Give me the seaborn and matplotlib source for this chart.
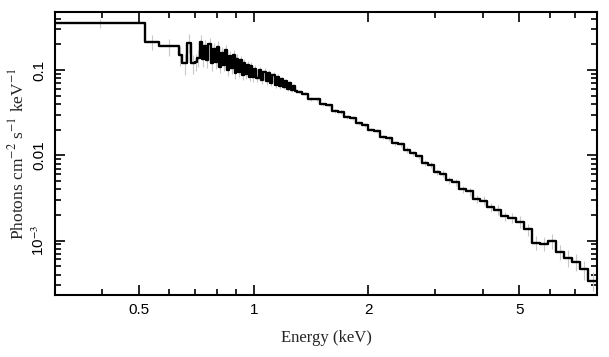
import matplotlib
matplotlib.use("Agg")
import matplotlib.pyplot as plt
import matplotlib.ticker as mticker
import numpy as np
import pandas as pd
import seaborn as sns

# ---- data ----
# low-energy bins
edges_low = [0.300, 0.516, 0.565, 0.634, 0.648, 0.667, 0.683, 0.700, 0.710]
flux_low = [0.355, 0.215, 0.190, 0.150, 0.120, 0.210, 0.120, 0.125, 0.140]
err_low = [0.12, 0.20, 0.22, 0.25, 0.28, 0.25, 0.25, 0.22, 0.22]

# dense, noisy region 0.72 - 1.30 keV
edges_mid = [0.720, 0.730, 0.740, 0.750, 0.760, 0.770, 0.780, 0.790, 0.800, 0.810,
             0.820, 0.830, 0.840, 0.850, 0.860, 0.870, 0.880, 0.890, 0.900, 0.910,
             0.920, 0.930, 0.940, 0.950, 0.960, 0.970, 0.980, 0.990,
             1.000, 1.015, 1.030, 1.045, 1.060, 1.075, 1.090, 1.105, 1.120, 1.135,
             1.150, 1.165, 1.180, 1.195, 1.210, 1.225, 1.240, 1.255, 1.270, 1.285]
flux_mid = [0.215, 0.135, 0.190, 0.130, 0.200, 0.120, 0.175, 0.125, 0.185, 0.110,
            0.160, 0.115, 0.170, 0.100, 0.145, 0.105, 0.150, 0.092, 0.135, 0.095,
            0.130, 0.088, 0.122, 0.090, 0.115, 0.083, 0.112, 0.082,
            0.104, 0.080, 0.100, 0.076, 0.096, 0.074, 0.092, 0.070, 0.087, 0.067,
            0.083, 0.065, 0.078, 0.063, 0.075, 0.060, 0.070, 0.059, 0.065, 0.057]
err_mid = [0.20, 0.20, 0.20, 0.18, 0.18, 0.18, 0.18, 0.17, 0.17, 0.17,
           0.16, 0.16, 0.16, 0.15, 0.15, 0.15, 0.14, 0.14, 0.14, 0.13,
           0.13, 0.13, 0.12, 0.12, 0.12, 0.11, 0.11, 0.11,
           0.10, 0.10, 0.10, 0.09, 0.09, 0.09, 0.08, 0.08, 0.08, 0.07,
           0.07, 0.07, 0.07, 0.06, 0.06, 0.06, 0.06, 0.06, 0.06, 0.06]

# smoother high-energy bins 1.3 - 8 keV
edges_high = [1.300, 1.339, 1.388, 1.440, 1.494, 1.549, 1.606, 1.666, 1.728, 1.792,
              1.858, 1.928, 2.000, 2.073, 2.150, 2.230, 2.313, 2.399, 2.488, 2.580,
              2.676, 2.776, 2.878, 2.985, 3.096, 3.211, 3.330, 3.474, 3.625, 3.783,
              3.948, 4.120, 4.298, 4.485, 4.680, 4.884, 5.126, 5.381, 5.649, 5.931,
              6.226, 6.537, 6.862, 7.203, 7.561, 8.035]
flux_high = [0.0560, 0.0531, 0.04579, 0.04518, 0.03949, 0.03844, 0.03315, 0.03201, 0.02820, 0.02745,
             0.02386, 0.02273, 0.02009, 0.01924, 0.01633, 0.01585, 0.01381, 0.01345, 0.01160, 0.01061,
             0.00979, 0.00810, 0.00778, 0.00645, 0.00611, 0.00513, 0.00482, 0.00399, 0.00377, 0.00311,
             0.00294, 0.00246, 0.00230, 0.00193, 0.00186, 0.00167, 0.00135, 0.000947, 0.000922, 0.00100,
             0.000743, 0.000633, 0.000568, 0.000458, 0.000340]
err_high = [0.05, 0.05, 0.05, 0.05, 0.05, 0.05, 0.05, 0.05, 0.05, 0.05,
            0.05, 0.05, 0.05, 0.05, 0.05, 0.06, 0.06, 0.06, 0.07, 0.07,
            0.07, 0.08, 0.08, 0.08, 0.09, 0.09, 0.10, 0.10, 0.11, 0.11,
            0.12, 0.12, 0.13, 0.13, 0.14, 0.15, 0.16, 0.18, 0.18, 0.20,
            0.20, 0.22, 0.22, 0.25, 0.25]

x_major = [0.5, 1, 2, 5]
x_major_labels = ["0.5", "1", "2", "5"]
y_major = [1e-3, 1e-2, 1e-1]
y_major_labels = [r"10$^{-3}$", "0.01", "0.1"]

bin_edges = edges_low + edges_mid + edges_high
flux = flux_low + flux_mid + flux_high
rel_err = err_low + err_mid + err_high

# ---- style ----
sns.set_style("ticks")
plt.rcParams["font.family"] = ["Liberation Sans", "DejaVu Sans"]
plt.rcParams["mathtext.fontset"] = "stix"

fig = plt.figure(figsize=(6.09, 3.57), dpi=100)
ax = fig.add_axes([55 / 609, 1 - 295 / 357, (597 - 55) / 609, (295 - 12) / 357])

df = pd.DataFrame({"energy": bin_edges, "flux": flux + [flux[-1]]})

lo = np.array(bin_edges[:-1])
hi = np.array(bin_edges[1:])
centers = np.sqrt(lo * hi)
fl = np.array(flux)
err = fl * np.array(rel_err)
ax.errorbar(centers, fl, yerr=err, fmt="none", ecolor="#c8c8c8",
            elinewidth=0.8, capsize=0, zorder=1)

sns.lineplot(data=df, x="energy", y="flux", drawstyle="steps-post",
             estimator=None, sort=False, color="black", linewidth=1.7,
             ax=ax, zorder=3)

ax.set_xscale("log")
ax.set_yscale("log")
ax.set_xlim(0.3, 8.0)
ax.set_ylim(2.3e-4, 0.48)

ax.xaxis.set_major_locator(mticker.FixedLocator(x_major))
ax.xaxis.set_major_formatter(mticker.FixedFormatter(x_major_labels))
ax.xaxis.set_minor_locator(mticker.LogLocator(base=10, subs=np.arange(2, 10)))
ax.xaxis.set_minor_formatter(mticker.NullFormatter())

ax.yaxis.set_major_locator(mticker.FixedLocator(y_major))
ax.yaxis.set_major_formatter(mticker.FixedFormatter(y_major_labels))
ax.yaxis.set_minor_locator(mticker.LogLocator(base=10, subs=np.arange(2, 10)))
ax.yaxis.set_minor_formatter(mticker.NullFormatter())

ax.tick_params(which="both", direction="in", top=True, right=True,
               width=1.2, colors="black")
ax.tick_params(which="major", length=7, labelsize=11, pad=6)
ax.tick_params(which="minor", length=4)
for lab in ax.get_yticklabels():
    lab.set_rotation(90)
    lab.set_va("center")

for s in ax.spines.values():
    s.set_linewidth(1.5)
    s.set_color("black")

ax.set_xlabel("Energy (keV)", family=["Liberation Serif", "DejaVu Serif"],
              fontsize=12, labelpad=9)
ax.set_ylabel(r"Photons cm$^{-2}$ s$^{-1}$ keV$^{-1}$",
              family=["Liberation Serif", "DejaVu Serif"], fontsize=12.5,
              labelpad=2)

fig.savefig("out.png", dpi=100)
